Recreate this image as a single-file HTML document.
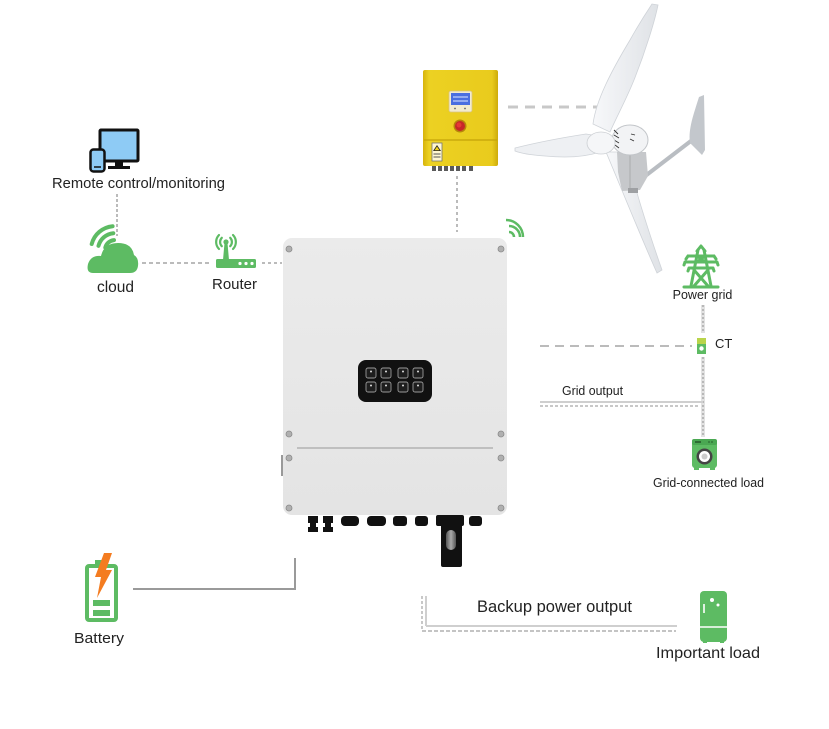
<!DOCTYPE html>
<html><head><meta charset="utf-8"><style>
html,body{margin:0;padding:0;background:#fff;}
svg{display:block;}
text{font-family:"Liberation Sans",Arial,sans-serif;fill:#222;}
</style></head><body>
<svg width="829" height="729" viewBox="0 0 829 729" xmlns="http://www.w3.org/2000/svg">
<defs>
<linearGradient id="yel" x1="0" y1="0" x2="1" y2="0">
<stop offset="0" stop-color="#d6b40c"/><stop offset="0.08" stop-color="#ecd122"/><stop offset="0.92" stop-color="#e9cb1d"/><stop offset="1" stop-color="#cdab0a"/>
</linearGradient>
<linearGradient id="inv" x1="0" y1="0" x2="0" y2="1">
<stop offset="0" stop-color="#ebebeb"/><stop offset="1" stop-color="#e4e4e4"/>
</linearGradient>
<linearGradient id="plug" x1="0" y1="0" x2="1" y2="0">
<stop offset="0" stop-color="#555"/><stop offset="0.5" stop-color="#aaa"/><stop offset="1" stop-color="#555"/>
</linearGradient>
<linearGradient id="blade" x1="0" y1="0" x2="1" y2="0">
<stop offset="0" stop-color="#f7f8fa"/><stop offset="1" stop-color="#dfe2e6"/>
</linearGradient>
</defs>

<!-- ===== connectors ===== -->
<line x1="117" y1="194" x2="117" y2="236" stroke="#bbb" stroke-width="2" stroke-dasharray="3 2"/>
<line x1="142" y1="263" x2="210" y2="263" stroke="#bbb" stroke-width="2" stroke-dasharray="4 3"/>
<line x1="262" y1="263" x2="282" y2="263" stroke="#bbb" stroke-width="2" stroke-dasharray="3 3"/>
<line x1="508" y1="107" x2="598" y2="107" stroke="#c8c8c8" stroke-width="3" stroke-dasharray="10 7"/>
<line x1="457" y1="176" x2="457" y2="232" stroke="#bbb" stroke-width="2" stroke-dasharray="3 3"/>
<line x1="703" y1="305" x2="703" y2="333" stroke="#e2e2e2" stroke-width="4"/>
<line x1="703" y1="305" x2="703" y2="333" stroke="#aaa" stroke-width="1.5" stroke-dasharray="2 2"/>
<line x1="540" y1="346" x2="692" y2="346" stroke="#bbb" stroke-width="2" stroke-dasharray="9 6"/>
<line x1="703" y1="357" x2="703" y2="437" stroke="#e2e2e2" stroke-width="4"/>
<line x1="703" y1="357" x2="703" y2="437" stroke="#aaa" stroke-width="1.5" stroke-dasharray="2 2"/>
<line x1="540" y1="402" x2="703" y2="402" stroke="#cfcfcf" stroke-width="2"/>
<line x1="540" y1="406" x2="700" y2="406" stroke="#b5b5b5" stroke-width="1.5" stroke-dasharray="3 2"/>
<polyline points="133,589 295,589 295,558" fill="none" stroke="#9a9a9a" stroke-width="2"/>
<line x1="422" y1="596" x2="422" y2="631" stroke="#b5b5b5" stroke-width="1.5" stroke-dasharray="3 2"/>
<line x1="426" y1="596" x2="426" y2="626" stroke="#cfcfcf" stroke-width="2"/>
<line x1="426" y1="626" x2="677" y2="626" stroke="#cfcfcf" stroke-width="2"/>
<line x1="422" y1="631" x2="676" y2="631" stroke="#b0b0b0" stroke-width="1.5" stroke-dasharray="4 2"/>

<!-- ===== remote monitoring ===== -->
<rect x="100" y="130" width="38" height="31" rx="1" fill="#8ecbf5" stroke="#111" stroke-width="3"/>
<rect x="115" y="161" width="8" height="6" fill="#111"/>
<rect x="108" y="166" width="22" height="3" fill="#111"/>
<rect x="90.5" y="149.5" width="14" height="22" rx="3" fill="#8ecbf5" stroke="#111" stroke-width="2.5"/>
<line x1="94" y1="167" x2="101" y2="167" stroke="#111" stroke-width="1.5"/>
<text x="52" y="188" font-size="15" textLength="173" lengthAdjust="spacingAndGlyphs">Remote control/monitoring</text>

<!-- ===== cloud ===== -->
<g fill="none" stroke="#5dbb63" stroke-width="4" stroke-linecap="round">
<path d="M105.3 247.5 A10 10 0 0 1 114 240.1"/>
<path d="M98.5 245.8 A17 17 0 0 1 113.3 233.2"/>
<path d="M91.7 244 A24 24 0 0 1 112.6 226.2"/>
</g>
<path d="M93 273 Q86 273 88 264 Q91 255 101 256 Q104 243 118 243 Q132 243 134 255 Q139 258 138 266 Q137 273 130 273 Z" fill="#5dbb63"/>
<text x="115.5" y="292" font-size="15.5" text-anchor="middle">cloud</text>

<!-- ===== router ===== -->
<g fill="none" stroke="#5dbb63" stroke-width="2.2" stroke-linecap="round">
<path d="M221.8 237.8 A6 6 0 0 0 221.8 246.2"/>
<path d="M219 235 A10 10 0 0 0 219 249"/>
<path d="M230.2 237.8 A6 6 0 0 1 230.2 246.2"/>
<path d="M233 235 A10 10 0 0 1 233 249"/>
</g>
<circle cx="226" cy="242" r="2.6" fill="#5dbb63"/>
<path d="M224.5 243 L227.5 243 L229 260 L223 260 Z" fill="#5dbb63"/>
<rect x="216" y="259" width="40" height="9" rx="1.5" fill="#5dbb63"/>
<circle cx="240" cy="263.5" r="1.6" fill="#fff"/>
<circle cx="246" cy="263.5" r="1.6" fill="#fff"/>
<circle cx="252" cy="263.5" r="1.6" fill="#fff"/>
<text x="234.5" y="289" font-size="15" text-anchor="middle">Router</text>

<!-- ===== yellow controller ===== -->
<rect x="423" y="70" width="75" height="96" rx="2" fill="url(#yel)"/>
<line x1="424" y1="140" x2="497" y2="140" stroke="#c4a308" stroke-width="1.2"/>
<rect x="449" y="91" width="23" height="21" rx="2" fill="#f3ebcf" stroke="#d8c480" stroke-width="0.8"/>
<rect x="451" y="93" width="19" height="12" fill="#4a6ee0"/>
<line x1="453" y1="97" x2="468" y2="97" stroke="#dfe8ff" stroke-width="1"/>
<line x1="453" y1="101" x2="468" y2="101" stroke="#dfe8ff" stroke-width="1"/>
<circle cx="455" cy="108.5" r="0.9" fill="#666"/><circle cx="465" cy="108.5" r="0.9" fill="#666"/>
<circle cx="460" cy="126" r="6.5" fill="#b8860b"/>
<circle cx="460" cy="126" r="5" fill="#c62828"/>
<circle cx="459" cy="125" r="2.5" fill="#e53935"/>
<rect x="432" y="143" width="10" height="18" fill="#fff7d0" stroke="#777" stroke-width="0.8"/>
<path d="M437 145 L441 151 L433 151 Z" fill="#222"/>
<path d="M437 146.5 L439.5 150.3 L434.5 150.3 Z" fill="#f2d21a"/>
<line x1="433.5" y1="154" x2="440.5" y2="154" stroke="#555" stroke-width="1"/>
<line x1="433.5" y1="157" x2="440.5" y2="157" stroke="#555" stroke-width="1"/>
<g fill="#5a5a5a">
<rect x="432" y="166" width="4" height="5"/><rect x="438" y="166" width="4" height="5"/>
<rect x="444" y="166" width="4" height="5"/><rect x="450" y="166" width="4" height="5"/>
<rect x="456" y="166" width="4" height="5"/><rect x="462" y="166" width="4" height="5"/>
<rect x="469" y="166" width="4" height="5"/>
</g>

<!-- ===== wind turbine ===== -->
<path d="M606 152 L626 152 C634 185 648 230 662 270 L657 273 C640 235 622 190 606 152 Z" fill="url(#blade)" stroke="#cfd3d8" stroke-width="0.8"/>
<line x1="640" y1="180" x2="700" y2="134" stroke="#b9bdc2" stroke-width="4"/>
<path d="M699 97 L704 95 L705 150 L702 155 L690 143 C688 130 693 116 699 97 Z" fill="#c3c7cc"/>
<polygon points="617,152 646,152 648,176 640,190 622,191 618,172" fill="#c6c8cb"/>
<line x1="630" y1="155" x2="630" y2="188" stroke="#a9abae" stroke-width="1"/>
<rect x="628" y="188" width="10" height="5" fill="#9ea0a3"/>
<ellipse cx="630" cy="140" rx="18" ry="15" fill="#f2f3f5" stroke="#c2c5c9" stroke-width="1"/>
<g stroke="#333" stroke-width="0.9">
<line x1="614" y1="130" x2="618" y2="134"/><line x1="614" y1="135" x2="619" y2="138"/>
<line x1="614" y1="140" x2="619" y2="143"/><line x1="615" y1="145" x2="619" y2="148"/>
<line x1="631" y1="134" x2="635" y2="135"/><line x1="630" y1="139" x2="634" y2="141"/>
</g>
<path d="M593 124 C596 100 612 70 630 40 C640 22 648 10 652 4 L658 5 C655 20 646 50 634 80 C626 100 616 118 610 132 Z" fill="url(#blade)" stroke="#cfd3d8" stroke-width="0.8"/>
<path d="M515 148 C535 143 560 138 586 134 L598 136 L600 152 C585 157 565 158 545 156 C530 155 520 153 515 151 Z" fill="#eef0f3" stroke="#cfd3d8" stroke-width="0.8"/>
<ellipse cx="601" cy="143" rx="14" ry="11" fill="#f5f6f8" stroke="#cdd0d4" stroke-width="0.8"/>

<!-- ===== inverter ===== -->
<rect x="283" y="238" width="224" height="277" rx="9" fill="url(#inv)"/>
<line x1="297" y1="448" x2="493" y2="448" stroke="#a8a8a8" stroke-width="1.2"/>
<line x1="282" y1="455" x2="282" y2="476" stroke="#777" stroke-width="1.5"/>
<g fill="#b0b0b0" stroke="#8a8a8a" stroke-width="0.8">
<circle cx="289" cy="249" r="3"/><circle cx="501" cy="249" r="3"/>
<circle cx="289" cy="434" r="3"/><circle cx="501" cy="434" r="3"/>
<circle cx="289" cy="458" r="3"/><circle cx="501" cy="458" r="3"/>
<circle cx="289" cy="508" r="3"/><circle cx="501" cy="508" r="3"/>
</g>
<rect x="358" y="360" width="74" height="42" rx="8" fill="#111"/>
<g fill="#1e1e1e" stroke="#9a9a9a" stroke-width="0.9">
<rect x="366" y="368" width="10" height="10" rx="2"/><rect x="381" y="368" width="10" height="10" rx="2"/>
<rect x="398" y="368" width="10" height="10" rx="2"/><rect x="413" y="368" width="10" height="10" rx="2"/>
<rect x="366" y="382" width="10" height="10" rx="2"/><rect x="381" y="382" width="10" height="10" rx="2"/>
<rect x="398" y="382" width="10" height="10" rx="2"/><rect x="413" y="382" width="10" height="10" rx="2"/>
</g>
<g fill="#ddd">
<circle cx="371" cy="371.5" r="1"/><circle cx="386" cy="371.5" r="1"/><circle cx="403" cy="371.5" r="1"/><circle cx="418" cy="371.5" r="1"/>
<circle cx="371" cy="385.5" r="1"/><circle cx="386" cy="385.5" r="1"/><circle cx="403" cy="385.5" r="1"/><circle cx="418" cy="385.5" r="1"/>
</g>
<!-- bottom connectors -->
<g fill="#111">
<rect x="308" y="516" width="10" height="7"/><rect x="310" y="523" width="6" height="4"/><rect x="308" y="527" width="10" height="5"/>
<rect x="323" y="516" width="10" height="7"/><rect x="325" y="523" width="6" height="4"/><rect x="323" y="527" width="10" height="5"/>
<rect x="341" y="516" width="18" height="10" rx="4"/>
<rect x="367" y="516" width="19" height="10" rx="4"/>
<rect x="393" y="516" width="14" height="10" rx="3"/>
<rect x="415" y="516" width="13" height="10" rx="3"/>
<rect x="436" y="515" width="28" height="11" rx="2"/>
<rect x="441" y="520" width="21" height="47" rx="2"/>
<rect x="469" y="516" width="13" height="10" rx="3"/>
</g>
<rect x="446" y="530" width="10" height="20" rx="5" fill="url(#plug)"/>

<!-- wifi near inverter -->
<g fill="none" stroke="#5dbb63" stroke-width="2.5">
<path d="M509 232 A5 5 0 0 1 514 237"/>
<path d="M509 226 A11 11 0 0 1 520 237"/>
<path d="M509 220 A17 17 0 0 1 526 237" transform="translate(-3,0)"/>
</g>

<!-- ===== power grid ===== -->
<g fill="none" stroke="#5dbb63" stroke-width="3" stroke-linejoin="round" stroke-linecap="round">
<path d="M698 250 L691 286"/>
<path d="M704 250 L711 286"/>
<path d="M697 251 L701 246 L705 251"/>
<path d="M688 256 L714 256 M688 256 L686 259 M714 256 L716 259"/>
<path d="M685 262 L717 262 M685 262 L684 265 M717 262 L718 265"/>
<path d="M689 268 L713 268 M689 268 L688 271 M713 268 L714 271"/>
<path d="M694 270 L708 286 M708 270 L694 286"/>
<path d="M697 256 L705 262 M705 256 L697 262"/>
<path d="M684 287 L718 287"/>
</g>
<text x="702.5" y="299" font-size="12.5" text-anchor="middle">Power grid</text>

<!-- CT -->
<rect x="697" y="338" width="9" height="6" fill="#b9d44a"/>
<rect x="697" y="344" width="9" height="10" fill="#5dbb63"/>
<circle cx="701.5" cy="348.5" r="2.2" fill="#fff"/>
<text x="715" y="348" font-size="13">CT</text>

<text x="562" y="395" font-size="12.5" textLength="61" lengthAdjust="spacingAndGlyphs">Grid output</text>

<!-- washer -->
<rect x="692" y="439" width="25" height="29" rx="3" fill="#5dbb63"/>
<rect x="692" y="439" width="25" height="6" rx="2" fill="#4aa852"/>
<rect x="695" y="441" width="6" height="2" fill="#2d6b32"/>
<circle cx="709" cy="442" r="0.9" fill="#2d6b32"/><circle cx="712" cy="442" r="0.9" fill="#2d6b32"/>
<circle cx="704.5" cy="456.5" r="8" fill="#444"/>
<circle cx="704.5" cy="456.5" r="5.5" fill="#fff"/>
<circle cx="704.5" cy="456.5" r="3" fill="#ccc"/>
<rect x="694" y="467" width="5" height="3" fill="#5dbb63"/>
<rect x="710" y="467" width="5" height="3" fill="#5dbb63"/>
<text x="708.5" y="487" font-size="12.5" text-anchor="middle" textLength="111" lengthAdjust="spacingAndGlyphs">Grid-connected load</text>

<!-- ===== battery ===== -->
<rect x="95" y="560" width="13" height="6" fill="#5dbb63"/>
<rect x="87" y="566" width="29" height="54" rx="2" fill="#fff" stroke="#5dbb63" stroke-width="4"/>
<rect x="93" y="600" width="17" height="6" fill="#5dbb63"/>
<rect x="93" y="610" width="17" height="6" fill="#5dbb63"/>
<polygon points="104,553 112,553 106,570 112,570 97,598 101,577 95,577" fill="#f47c20"/>
<text x="74" y="643" font-size="14.5" textLength="50" lengthAdjust="spacingAndGlyphs">Battery</text>

<!-- ===== backup / important load ===== -->
<text x="477" y="612" font-size="16.6" textLength="155" lengthAdjust="spacingAndGlyphs">Backup power output</text>
<rect x="700" y="591" width="27" height="51" rx="4" fill="#5dbb63"/>
<line x1="700" y1="627" x2="727" y2="627" stroke="#fff" stroke-width="1.5"/>
<line x1="704" y1="604" x2="704" y2="613" stroke="#fff" stroke-width="1.6"/>
<circle cx="712" cy="600" r="2" fill="#fff"/>
<circle cx="718" cy="605" r="1.5" fill="#fff"/>
<rect x="703" y="640" width="4" height="3" fill="#5dbb63"/>
<rect x="720" y="640" width="4" height="3" fill="#5dbb63"/>
<text x="656" y="658" font-size="16" textLength="104" lengthAdjust="spacingAndGlyphs">Important load</text>
</svg>
</body></html>
